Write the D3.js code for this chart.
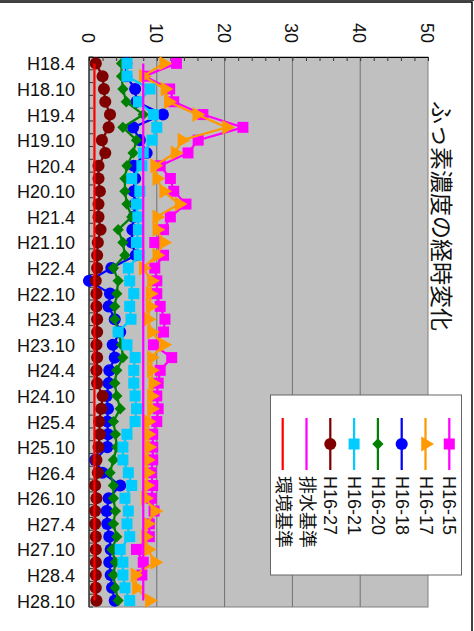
<!DOCTYPE html>
<meta charset="utf-8">
<body style="margin:0;background:#fff">
<script src="https://d3js.org/d3.v7.min.js"></script>
<script>

// quarterly sampling dates (H18.4 ... H28.10)
var categories = ["H18.4","H18.7","H18.10","H19.1","H19.4","H19.7","H19.10","H20.1","H20.4","H20.7","H20.10",
  "H21.1","H21.4","H21.7","H21.10","H22.1","H22.4","H22.7","H22.10","H23.1","H23.4","H23.7","H23.10",
  "H24.1","H24.4","H24.7","H24.10","H25.1","H25.4","H25.7","H25.10","H26.1","H26.4","H26.7","H26.10",
  "H27.1","H27.4","H27.7","H27.10","H28.1","H28.4","H28.7","H28.10"];
var tickLabels = categories.filter(function(d, i) { return i % 2 === 0; });
var valueTicks = [0, 10, 20, 30, 40, 50];

var seriesNames = ["H16-15", "H16-17", "H16-18", "H16-20", "H16-21", "H16-27"];
var seriesColors = ["#ff00ff", "#ff9900", "#0000ff", "#008000", "#00ccff", "#800000"];

var h16_15 = [12.9, 8.2, 11.9, 12.5, 16.8, 22.7, 16.1, 14.6, 10.5, 12.0, 12.5, 14.3, 12.0, 11.0, 9.7, 11.0, 9.7, 10.0, 10.0, 10.5, 11.2,
  11.0, 9.5, 12.2, 10.5, 10.2, 10.0, 10.2, 10.0, 9.4, 9.4, 9.4, 9.2, 9.4, 9.2, 9.6, 8.9, 8.9, 7.0, 8.0, 7.8, null, null];
var h16_17 = [11.0, 8.0, 11.2, 11.7, 15.9, 20.3, 13.7, 12.7, 9.7, 10.0, 11.0, 13.3, 10.0, 10.0, 11.0, 10.0, 8.0, 9.2, 9.0, 9.0, 8.7,
  9.2, 11.0, 9.2, 9.2, 9.4, 9.2, 9.2, 8.7, 8.7, 8.8, 8.6, 8.6, 8.5, 8.3, 9.7, 8.6, 8.3, 8.7, 9.7, 6.8, 7.0, 8.9];
var h16_18 = [5.5, 5.5, 6.8, 7.0, 10.9, 6.5, 7.5, 8.5, 6.6, 6.8, 6.6, 6.8, 6.6, 6.4, 6.3, 6.9, 3.3, 0.0, 3.1, 2.9, 3.8,
  4.6, 3.5, 3.8, 3.0, 2.9, 2.6, 2.8, 2.7, 2.8, 2.7, 0.9, 2.0, 4.6, 2.9, 2.6, 2.7, 3.0, 3.2, 3.0, 3.2, 3.4, 3.8];
var h16_20 = [4.8, 4.8, 5.0, 5.5, 8.0, 5.0, 7.0, 6.5, 5.6, 5.3, 5.3, 5.6, 6.3, 4.3, 5.0, 5.3, 3.6, 4.3, 4.1, 3.8, 3.8,
  4.3, 4.8, 5.0, 4.1, 3.8, 4.1, 4.6, 3.6, 3.9, 4.1, 3.6, 3.1, 3.6, 3.6, 3.9, 3.6, 4.1, 3.4, 3.9, 3.6, 3.9, 4.3];
var h16_21 = [5.6, 5.6, 9.0, 7.3, 9.5, 10.0, 9.3, 8.0, 7.8, 6.3, 7.5, 7.0, 7.2, 7.3, 7.0, 7.4, 5.8, 6.0, 6.6, 6.0, 6.2,
  4.3, 5.6, 6.8, 6.6, 6.6, 6.8, 7.0, 6.8, 5.6, 5.0, 5.0, 5.8, 6.3, 5.3, 5.8, 5.6, 6.0, 4.6, 5.0, 5.0, 5.3, 6.0];
var h16_27 = [1.0, 2.0, 2.2, 2.4, 3.1, 2.9, 1.9, 2.4, 1.4, 1.4, 1.6, 1.4, 1.4, 1.7, 1.3, 1.2, 1.2, 1.0, 1.1, 1.1, 1.2,
  1.2, 1.1, 1.2, 1.1, 1.2, 2.0, 1.8, 1.5, 1.6, 1.4, 1.1, 1.3, 0.9, 1.1, 0.9, 0.9, 1.0, 1.0, 1.0, 1.0, 1.0, 1.1];
var seriesValues = [h16_15, h16_17, h16_18, h16_20, h16_21, h16_27];

// reference lines
var haisuiKijun = 8;    // 排水基準
var kankyoKijun = 0.8;  // 環境基準

var W = 474, H = 631;
var svg = d3.select("body").append("svg").attr("width", W).attr("height", H)
  .style("font-family", "'Liberation Sans', Arial, 'Noto Sans CJK JP', sans-serif");

// chart frame (picture is turned a quarter to the right)
svg.append("rect").attr("x", -10).attr("y", 2).attr("width", 482).attr("height", 640)
  .attr("fill", "#fff").attr("stroke", "#000").attr("stroke-width", 1.5);
svg.append("line").attr("x1", 0).attr("x2", W).attr("y1", 0.5).attr("y2", 0.5).attr("stroke", "#444");

// value axis runs left->right, dates run top->bottom
var x = d3.scaleLinear().domain([0, 50]).range([89, 428]);
var y = d3.scaleBand().domain(categories).range([57, 607]);
var yc = function(d) { return y(d) + y.bandwidth() / 2; };

svg.append("rect").attr("x", x(0)).attr("y", 57).attr("width", x(50) - x(0)).attr("height", 550)
  .attr("fill", "#c0c0c0").attr("stroke", "#808080");

// gridlines
svg.selectAll(".grid").data(valueTicks.slice(1, 5)).enter().append("line")
  .attr("x1", x).attr("x2", x).attr("y1", 57).attr("y2", 607)
  .attr("stroke", "#707070").attr("stroke-width", 1);

// minor ticks along value axis
svg.append("g").attr("transform", "translate(0,57)")
  .call(d3.axisTop(x).tickValues(d3.range(0, 51, 2)).tickSize(-4).tickFormat(""))
  .call(function(g) { g.select(".domain").attr("stroke", "#000"); g.selectAll("line").attr("stroke", "#333"); });

// value labels, turned
svg.selectAll(".vlab").data(valueTicks).enter().append("text")
  .attr("transform", function(d) { return "translate(" + (x(d) - 1) + ",43) rotate(90)"; })
  .attr("text-anchor", "end").attr("dominant-baseline", "central")
  .style("font-size", "18px").attr("fill", "#111").text(function(d) { return d; });

// category axis
svg.append("line").attr("x1", x(0)).attr("x2", x(0)).attr("y1", 57).attr("y2", 607).attr("stroke", "#000");
svg.selectAll(".ctick").data(categories.concat([null])).enter().append("line")
  .attr("x1", x(0)).attr("x2", x(0) + 4)
  .attr("y1", function(d) { return d === null ? 607 : y(d); })
  .attr("y2", function(d) { return d === null ? 607 : y(d); })
  .attr("stroke", "#333");
svg.selectAll(".clab").data(tickLabels).enter().append("text")
  .attr("x", 75).attr("y", function(d) { return yc(d) + 1; })
  .attr("text-anchor", "end").attr("dominant-baseline", "central")
  .style("font-size", "18px").attr("fill", "#111").text(function(d) { return d; });

// marker shapes
var sq = d3.symbol().type(d3.symbolSquare).size(121);
var tri = d3.symbol().type(d3.symbolTriangle).size(95);
var circ = d3.symbol().type(d3.symbolCircle).size(115);
var dia = d3.symbol().type(d3.symbolSquare).size(64);
var shapes = [
  { path: sq(), rot: 0 }, { path: tri(), rot: 90 }, { path: circ(), rot: 0 },
  { path: dia(), rot: 45 }, { path: sq(), rot: 0 }, { path: circ(), rot: 0 }
];

var line = d3.line()
  .defined(function(d) { return d.v != null; })
  .x(function(d) { return x(d.v); })
  .y(function(d) { return yc(d.c); });

seriesValues.forEach(function(vals, k) {
  var pts = vals.map(function(v, i) { return { c: categories[i], v: v }; });
  var g = svg.append("g");
  g.append("path").datum(pts).attr("d", line).attr("fill", "none")
    .attr("stroke", seriesColors[k]).attr("stroke-width", 2.25);
  g.selectAll("path.m").data(pts.filter(function(d) { return d.v != null; })).enter().append("path")
    .attr("class", "m").attr("d", shapes[k].path).attr("fill", seriesColors[k])
    .attr("transform", function(d) { return "translate(" + x(d.v) + "," + yc(d.c) + ") rotate(" + shapes[k].rot + ")"; });
});

// standard lines
[[haisuiKijun, "#ff00ff"], [kankyoKijun, "#ff0000"]].forEach(function(s) {
  svg.append("line").attr("x1", x(s[0])).attr("x2", x(s[0]))
    .attr("y1", yc(categories[0])).attr("y2", yc(categories[categories.length - 1]))
    .attr("stroke", s[1]).attr("stroke-width", 2.25);
});

// title
svg.append("text").attr("transform", "translate(443,216) rotate(90)")
  .attr("text-anchor", "middle").attr("dominant-baseline", "central")
  .style("font-family", "'Noto Sans CJK JP', sans-serif").style("font-size", "23px").attr("fill", "#111")
  .text("ふっ素濃度の経時変化");

// legend
var legendItems = seriesNames.map(function(n, k) { return { name: n, color: seriesColors[k], shape: shapes[k] }; })
  .concat([{ name: "排水基準", color: "#ff00ff" }, { name: "環境基準", color: "#ff0000" }]);
var lg = svg.append("g");
lg.append("rect").attr("x", 270.5).attr("y", 395).attr("width", 191).attr("height", 180)
  .attr("fill", "#fff").attr("stroke", "#666");
var item = lg.selectAll(".li").data(legendItems).enter().append("g")
  .attr("transform", function(d, i) { return "translate(" + (449.3 - i * 23.8) + ",0)"; });
item.append("line").attr("x1", 0).attr("x2", 0).attr("y1", 418).attr("y2", 470)
  .attr("stroke", function(d) { return d.color; }).attr("stroke-width", 2.25);
item.filter(function(d) { return d.shape; }).append("path")
  .attr("d", function(d) { return d.shape.path; }).attr("fill", function(d) { return d.color; })
  .attr("transform", function(d) { return "translate(0,444) rotate(" + d.shape.rot + ")"; });
item.append("text").attr("transform", "translate(0,476) rotate(90)")
  .attr("dominant-baseline", "central").style("font-size", "18px").attr("fill", "#111")
  .text(function(d) { return d.name; });

</script>
